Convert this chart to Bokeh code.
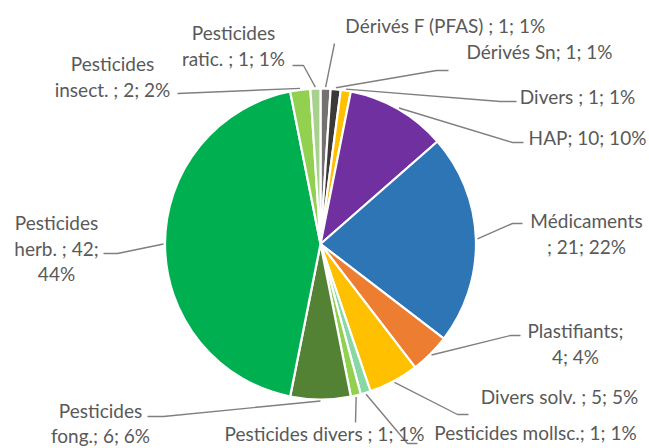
import numpy as np
from bokeh.plotting import figure
from bokeh.models import Range1d, ColumnDataSource
from bokeh.core.properties import value
from bokeh.embed import file_html
from bokeh.resources import INLINE

# ---- data ----
categories = ["Dérivés F (PFAS)", "Dérivés Sn", "Divers", "HAP", "Médicaments",
              "Plastifiants", "Divers solv.", "Pesticides mollsc.", "Pesticides divers",
              "Pesticides fong.", "Pesticides herb.", "Pesticides insect.", "Pesticides ratic."]
counts = [1, 1, 1, 10, 21, 4, 5, 1, 1, 6, 42, 2, 1]
colors = ["#767171", "#3B3838", "#FFC000", "#7030A0", "#2E75B6", "#ED7D31", "#FFC000",
          "#88D8A6", "#92D050", "#548235", "#00B050", "#92D050", "#A9D18E"]
# label text templates (lines), filled with count and percentage
label_templates = [
    ["Dérivés F (PFAS) ; {n}; {p}%"],
    ["Dérivés Sn; {n}; {p}%"],
    ["Divers ; {n}; {p}%"],
    ["HAP; {n}; {p}%"],
    ["Médicaments", "; {n}; {p}%"],
    ["Plastifiants;", "{n}; {p}%"],
    ["Divers solv. ; {n}; {p}%"],
    ["Pesticides mollsc.; {n}; {p}%"],
    ["Pesticides divers ; {n}; {p}%"],
    ["Pesticides", "fong.; {n}; {p}%"],
    ["Pesticides", "herb. ; {n};", "{p}%"],
    ["Pesticides", "insect. ; {n}; {p}%"],
    ["Pesticides", "ratic. ; {n}; {p}%"],
]

# ---- layout (pixel positions, y from top) ----
W, H = 649, 448
CX, CY, R = 320, 243.5, 155.5
label_pos = [(445, 25), (539, 51), (577, 96), (587, 137), (586, 220), (575, 330),
             (559, 396), (535, 432), (324, 433), (100, 410), (56, 222), (112, 63), (233, 32)]
line_gaps = [25.5] * 9 + [24.5] + [25.5] * 3
elbows = [
    [(334, 43)], [(448, 70), (436, 70)], [(516, 101), (500, 101)], [(523, 142), (512, 142)],
    [(522, 223), (512, 223)], [(520, 335), (510, 335)], [(468, 414), (457, 414)],
    [(417, 443), (407, 443)], [(355, 422)], [(147, 416), (163, 416)],
    [(103, 253), (117, 253)], [(177, 93)], [(292, 65), (303, 65)],
]

def fy(y):
    return H - y

total = sum(counts)
cum = np.concatenate([[0], np.cumsum(counts)])
start = np.pi / 2 - 2 * np.pi * cum[:-1] / total
end = np.pi / 2 - 2 * np.pi * cum[1:] / total
mid = (start + end) / 2

p = figure(width=W, height=H, x_range=Range1d(0, W), y_range=Range1d(0, H),
           output_backend="svg", toolbar_location=None, min_border=0,
           x_axis_type=None, y_axis_type=None)
p.grid.visible = False
p.outline_line_color = None
p.background_fill_color = "white"
p.border_fill_color = "white"

src = ColumnDataSource(dict(start=start, end=end, color=colors))
p.wedge(x=CX, y=fy(CY), radius=R, start_angle="start", end_angle="end",
        direction="clock", fill_color="color", line_color="white", line_width=2.2,
        source=src)

# leader lines
xs, ys = [], []
for i, pts in enumerate(elbows):
    ex = CX + (R + 1.5) * np.cos(mid[i])
    ey = fy(CY) + (R + 1.5) * np.sin(mid[i])
    xs.append([pt[0] for pt in pts] + [ex])
    ys.append([fy(pt[1]) for pt in pts] + [ey])
p.multi_line(xs, ys, line_color="#7F7F7F", line_width=1.4)

# labels
tx, ty, tt = [], [], []
for i, lines in enumerate(label_templates):
    pct = int(round(100 * counts[i] / total))
    x0, y0 = label_pos[i]
    for k, ln in enumerate(lines):
        tx.append(x0)
        ty.append(fy(y0 + k * line_gaps[i]))
        tt.append(ln.format(n=counts[i], p=pct))
p.text(x=tx, y=ty, text=tt, text_font=value("Lato"), text_font_size="19px",
       text_color="#595959", text_align="center", text_baseline="middle")

open("out.html", "w").write(file_html(p, INLINE))
